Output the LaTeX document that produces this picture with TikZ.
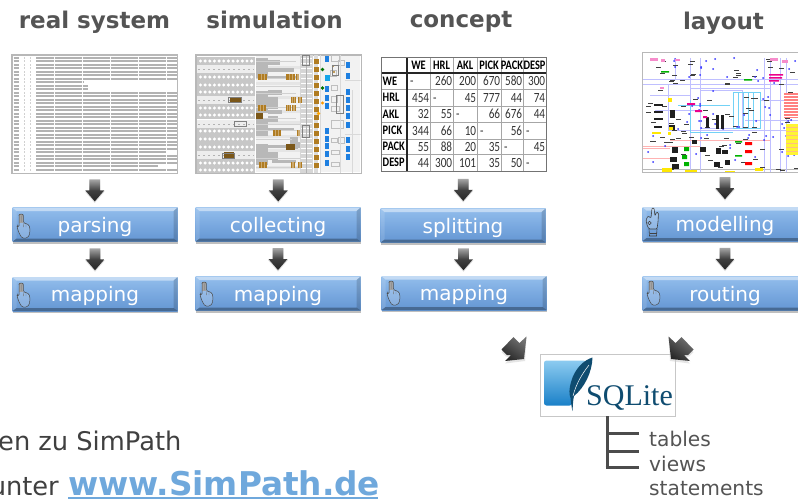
\documentclass[tikz,border=0pt]{standalone}
\usepackage{fontspec}
\setmainfont{DejaVu Sans}
\newfontfamily\tablefont[FakeStretch=.8]{Carlito}
\newfontfamily\logofont{Liberation Serif}
\usetikzlibrary{shadows,calc}
\definecolor{txtgray}{gray}{0.33}
\definecolor{linkblue}{HTML}{6FA8DC}
\definecolor{brownb}{HTML}{B07C22}
\definecolor{blueb}{HTML}{1E7FE0}
\definecolor{logoblue}{HTML}{0F4C70}
\definecolor{stepTop}{HTML}{93BEEC}
\definecolor{stepMid}{HTML}{7AA9E0}
\definecolor{stepBot}{HTML}{6496D2}
\definecolor{logoTop}{HTML}{8CCBF0}
\definecolor{logoBot}{HTML}{1A80C8}
\tikzset{
  x=1pt,y=-1pt,
  titletext/.style={font=\bfseries\fontsize{23}{25}\selectfont,text=txtgray,inner sep=0pt,anchor=base},
  thumb/.style={draw=black!28,line width=.9pt,fill=white,inner sep=0pt,minimum width=165pt,minimum height=118pt},
  stepbox/.style={inner sep=0pt,minimum width=165pt,minimum height=34pt,top color=stepTop,bottom color=stepBot,middle color=stepMid,
     font=\fontsize{20}{22}\selectfont,text=white,text height=16pt,text depth=1pt,
     drop shadow={shadow xshift=0pt,shadow yshift=-2pt,opacity=.25,fill=black},
     path picture={
       \fill[white,opacity=.45] (path picture bounding box.north west) -- (path picture bounding box.north east) -- ++(-4pt,-3.5pt) -- ($(path picture bounding box.north west)+(4pt,-3.5pt)$) -- cycle;
       \fill[black,opacity=.3] (path picture bounding box.south west) -- (path picture bounding box.south east) -- ++(-4pt,3pt) -- ($(path picture bounding box.south west)+(4pt,3pt)$) -- cycle;
       \fill[black,opacity=.15] (path picture bounding box.south east) -- (path picture bounding box.north east) -- ++(-4pt,-3.5pt) -- ($(path picture bounding box.south east)+(-4pt,3pt)$) -- cycle;
       \fill[white,opacity=.12] (path picture bounding box.south west) -- (path picture bounding box.north west) -- ++(4pt,-3.5pt) -- ($(path picture bounding box.south west)+(4pt,3pt)$) -- cycle;
     }},
  treeline/.style={draw=black!70,line width=3pt},
  leaftext/.style={font=\fontsize{20.2}{22}\selectfont,text=txtgray,inner sep=0pt,anchor=west},
  cellh/.style={font=\tablefont\bfseries\fontsize{13}{13}\selectfont,inner sep=0pt,text=black},
  cell/.style={font=\tablefont\fontsize{14}{14}\selectfont,inner sep=0pt,text=black!80},
}
% pointing hand, origin top-left of icon
\newcommand{\handicon}[2]{%
 \begin{scope}[shift={(#1,#2)}]
  \fill[black!45] (2.2,0) rectangle (6.2,9);
  \draw[black!70,line width=.5pt,fill=white,fill opacity=.2,rounded corners=1.2pt]
    (2,1.5) -- (2.5,0) -- (5.8,0) -- (6.3,1.5) -- (6.5,9) -- (9,9.5) -- (12,11) -- (13,15) -- (12.5,21) -- (10,24) -- (5,24) -- (2,19) -- (0,13) -- (.5,11.5) -- (2,13) -- cycle;
  \draw[black!55,line width=.4pt] (4.2,1.5) -- (4.2,8) (6.5,9) -- (6.6,13) (9,9.5) -- (9,13);
 \end{scope}}
\newcommand{\okhand}[2]{%
 \begin{scope}[shift={(#1,#2)}]
  \draw[black!75,line width=.6pt,fill=white,fill opacity=.2,rounded corners=1pt]
    (6,0) -- (8,0) -- (9,8) -- (10.5,4) -- (12.5,5) -- (12,14) -- (11,21) -- (3,21) -- (1,17) -- (0,12) -- (2,8) -- (5,10) -- cycle;
  \draw[black!75,line width=.6pt] (3,21) -- (3.5,28) -- (10.5,28) -- (11,21);
  \draw[black!75,line width=.5pt] (3.5,15) circle (1.8pt);
  \draw[black!75,line width=.4pt] (3.5,25) -- (10.5,25);
 \end{scope}}
% block arrow pointing down, centred on its origin
\newcommand{\vblock}[1]{%
 \begin{scope}[shift={(#1)}]
  \fill[black!25,opacity=.5] (-5.3,-10) -- (5.3,-10) -- (5.3,1) -- (10,1) -- (0,12.5) -- (-10,1) -- (-5.3,1) -- cycle;
  \shade[top color=black!35,bottom color=black!85,middle color=black!75] (-5.3,-11) -- (5.3,-11) -- (5.3,0) -- (9.5,0) -- (0,11) -- (-9.5,0) -- (-5.3,0) -- cycle;
 \end{scope}}
% chunky diagonal arrow, drawn pointing down-right, centred on its origin
\newcommand{\diagarrow}[2]{%
 \begin{scope}[shift={(#1)},xscale=#2]
  \fill[black!20,opacity=.5] (-12.5,3) -- (-.5,-9) -- (6,-6) -- (12.5,-12) -- (11,12) -- (-9,14.5) -- (-3,8.5) -- (-8,7.5) -- cycle;
  \shade[top color=black!55,bottom color=black!85,shading angle=-35] (-12.5,.5) -- (-.5,-12) -- (5.5,-6) -- (12.5,-12.5) -- (10,10) -- (-9,12) -- (-3,6) -- (-7,6) -- cycle;
 \end{scope}}
\begin{document}
\begin{tikzpicture}
\useasboundingbox (0,0) rectangle (798,499);
\clip (0,0) rectangle (798,499);
\fill[white] (0,0) rectangle (798,499);
% ---- titles
\node[titletext] (t1) at (94.5,28.5) {real system};
\node[titletext] (t2) at (274.5,28.5) {simulation};
\node[titletext] (t3) at (461,27) {concept};
\node[titletext] (t4) at (723.5,29) {layout};
% ---- thumbnails
\node[thumb] (real) at (94.5,114) {};
\node[thumb] (sim) at (278.5,114) {};
\node[draw=black!55,line width=.9pt,fill=white,inner sep=0pt,minimum width=165pt,minimum height=114pt] (tab) at (463.5,114) {};
\node[thumb,minimum height=117pt] (lay) at (725,110.5) {};
% real-system text dump
\begin{scope}
 \foreach \r in {0,...,32}{
  \pgfmathsetmacro\yy{57.8+\r*3.5}
  \draw[black!30,line width=2pt] (13.5,\yy) -- (18.5,\yy);
  \draw[black!18,line width=2pt] (24,\yy) -- (25,\yy) (30,\yy) -- (31,\yy);
  \pgfmathsetmacro\xe{(\r==8||\r==9)?88:((\r==7)?83:((\r==27)?166:((\r==31)?158:176.5)))}
  \draw[black!30,line width=2pt,dash pattern=on 18pt off .6pt on 9pt off .4pt] (36,\yy) -- (\xe,\yy);
 }
\end{scope}
% simulation thumbnail
\begin{scope}
 \clip (196.5,55.5) rectangle (360.5,172.5);
 \foreach \yy in {61,77,85,92,108,115,131,139,147,163,170}{
   \fill[black!22] (197,\yy-3.6) rectangle (255,\yy+3.6);
   \foreach \c in {0,...,11}{
     \fill[white] ({200.5+\c*4.65},\yy) circle (1.7pt);
   }
 }
 \foreach \yy in {69,100,124,155}{
   \fill[black!7] (197,\yy-3.6) rectangle (255,\yy+3.6);
   \draw[black!30,line width=.6pt,dash pattern=on 2pt off 3pt] (198,\yy) -- (254,\yy);
 }
 % gray machine blocks
 \fill[black!5] (256,56) rectangle (300,172);
 \foreach \y in {66,82,96,110,121,135,149,166}{\fill[black!10] (256,\y) rectangle +(44,3);}
 \foreach \x/\y/\w/\h in {256/58/12/21,256/91/12/22,256/118/12/18,256/144/12/21,
                          268/60/12/5,268/68/26/4,268/76/30/3,268/97/10/12,268/116/10/6,268/128/26/3,268/152/10/8,
                          290/137/8/12,292/142/8/6,268/90/14/5,268/110/14/4,268/145/20/3,272/160/24/3}
   \fill[black!28] (\x,\y) rectangle +(\w,\h);
 \foreach \x/\y/\w in {256/61/40,256/78/40,256/86/44,256/93/40,256/107/44,256/118/40,256/124/44,256/130/44,256/139/36,256/158/44,256/167/44}
   \draw[black!18,line width=.7pt] (\x,\y) -- +(\w,0);
 % vertical conveyor bands
 \fill[black!16] (300,55) rectangle (313,173);
 \foreach \y in {58,63,...,172}{\draw[white,line width=.5pt] (301,\y) -- (312,\y);}
 \draw[black!30,line width=.5pt] (306,55) -- (306,173);
 \fill[black!14] (314,55) rectangle (318,173);
 % brown pallets column
 \foreach \y in {58.5,66.5,...,170}{\fill[brownb] (314,\y) rectangle +(5,5);}
 % brown blocks
 \foreach \x/\y/\w/\h in {258/74/9/6,286/74/9/6,296/74/3/6,258/105/8/6,291/97/5/6,298/97/4/6,286/105/5/6,292/105/4/6,
                          273/130/8/6,297/130/3/6,259/162/8/6,291/162/4/6,298/162/4/6}
   {\fill[brownb] (\x,\y) rectangle +(\w,\h);
    \draw[white,opacity=.35,line width=.3pt] (\x+.3*\w,\y) -- +(0,\h) (\x+.65*\w,\y) -- +(0,\h);}
 \fill[black!30!brownb] (256,113) rectangle +(7,6);
 \fill[black!30!brownb] (286,144) rectangle +(9,6);
 \fill[black!30!brownb] (230,97) rectangle +(11,6);
 \fill[black!30!brownb] (224,152) rectangle +(10,6);
 % right side light grey
 \fill[black!5] (320,56) rectangle (360,172);
 \foreach \x/\y/\w/\h in {331/55/8/6,331/85/6/5,331/106/8/5,331/120/12/8,330/70/6/6,338/60/6/5,331/138/6/4,338/137/6/6,331/96/6/6,331/150/8/4,331/162/8/4}
   \draw[black!25,line width=.5pt] (\x,\y) rectangle +(\w,\h);
 \foreach \yy in {80,134}{\draw[black!15,line width=.6pt] (345,\yy) -- (361,\yy);}
 \draw[black!15,line width=.6pt] (340,55) -- (340,173) (352,90) -- (352,173) (320,55) -- (320,173);
 % blue blocks
 \foreach \y in {56,86,95,103,128,136,143,151,160}{\fill[blueb] (325,\y) rectangle +(4,6);}
 \fill[blueb!70!cyan] (325,75) rectangle +(4.5,6);
 \foreach \y in {62,72.5,89,97,105,113,122,137,146,154}{\fill[blueb] (346,\y) rectangle +(4,6);}
 % dots
 \fill[green!45!black] (322.5,69.5) circle (1.8pt) (322.5,88) circle (1.8pt);
 \fill[orange!80!yellow] (322.5,103) circle (1.6pt);
 \fill[orange!70!yellow] (318.5,113.5) circle (1.9pt);
 \fill[brownb] (334,72) circle (1.2pt) (333,66) circle (1.2pt);
 % selection frames
 \draw[black!50,line width=.8pt,fill=none]
   (302,55) rectangle (309,65) (332,65) rectangle (338.5,75) (336,95) rectangle (343,113)
   (302,125) rectangle (309,137) (228,97.5) rectangle (241,102.5) (234,121) rectangle (246,126) (222,153) rectangle (234,158);
\end{scope}
\draw[black!28,line width=.9pt] (real.north west) rectangle (real.south east) (sim.north west) rectangle (sim.south east);
% concept table
\def\cx{{381,407,430,453,477,501,523,546}}
\def\cy{{57,73,89,106,122,139,154,171}}
\foreach \x in {430,453,477,501,523} \draw[black!35,line width=.9pt] (\x,57) -- (\x,171);
\foreach \y in {89,106,122,139,154} \draw[black!35,line width=.9pt] (381,\y) -- (546,\y);
\draw[black!85,line width=1.1pt] (381,73) -- (546,73) (407,57) -- (407,171);
\draw[black!55,line width=1pt] (381,57) rectangle (546,171);
\foreach \n/\tx [count=\i from 1] in {h1/WE,h2/HRL,h3/AKL,h4/PICK,h5/PACK,h6/DESP}{
  \pgfmathsetmacro\xl{\cx[\i]}\pgfmathsetmacro\xr{\cx[\i+1]}
  \node[cellh,anchor=base] (c\n) at ({(\xl+\xr)/2},69.5) {\tx};
  \pgfmathsetmacro\yl{\cy[\i]}\pgfmathsetmacro\yr{\cy[\i+1]}
  \node[cellh,anchor=base west] (r\n) at (382.5,{(\yl+\yr)/2+4.2}) {\tx};
}
\foreach \r/\a/\b/\c/\d/\e/\f [count=\ii from 1] in {1/-/260/200/670/580/300,2/454/-/45/777/44/74,3/32/55/-/66/676/44,4/344/66/10/-/56/-,5/55/88/20/35/-/45,6/44/300/101/35/50/-}{
  \pgfmathsetmacro\yl{\cy[\ii]}\pgfmathsetmacro\yr{\cy[\ii+1]}
  \pgfmathsetmacro\ym{(\yl+\yr)/2+4.5}
  \foreach \v [count=\j from 1] in {\a,\b,\c,\d,\e,\f}{
    \pgfmathsetmacro\xl{\cx[\j]}\pgfmathsetmacro\xr{\cx[\j+1]}
    \if-\v
      \node[cell,anchor=base west] (v\ii\j) at (\xl+3,\ym) {-};
    \else
      \node[cell,anchor=base east] (v\ii\j) at (\xr-.7,\ym) {\v};
    \fi
  }
}
% layout thumbnail
\begin{scope}
 \clip (642.5,52.5) rectangle (798,172);
 \pgfmathsetseed{4711}
 \draw[blue!25,line width=.7pt] (643,79) -- (798,79) (643,84) -- (798,84) (690,88) -- (770,88);
 \foreach \x in {690,700,764,770,780,786}{\draw[blue!25,line width=.6pt] (\x,58) -- (\x,172);}
 \draw[blue!25,line width=.6pt] (668,84) -- (668,130) -- (790,130) (700,90) rectangle (742,128)
   (760,100) -- (798,100) (745,120) -- (798,120) (675,60) -- (675,79) (650,95) -- (690,95) (655,110) -- (700,110);
 \draw[cyan!55,line width=.6pt] (733,92) rectangle (760,128) (738,92) -- (738,128) (743,92) -- (743,128) (748,92) -- (748,128) (753,92) -- (753,128)
   (690,100) -- (690,132) -- (733,132) (678,105) -- (730,105);
 \draw[red!30,line width=.8pt] (643,148) -- (670,148) (643,158) -- (670,158) (670,140) -- (770,140) (643,146) -- (700,146);
 \foreach \n in {1,...,95}{
   \pgfmathsetmacro\px{645+random(0,150)}\pgfmathsetmacro\py{58+random(0,112)}
   \fill[black!75] (\px,\py) rectangle +(5,1.2);
 }
 \foreach \n in {1,...,70}{
   \pgfmathsetmacro\px{645+random(0,150)}\pgfmathsetmacro\py{58+random(0,112)}
   \fill[blue!80] (\px,\py) circle (1pt);
 }
 \foreach \x/\y/\w/\h in {654/104/9/2,654/111/9/2,654/118/9/2,654/126/8/2,670/110/5/8,669/125/6/5,
     672/147/6/6,670/157/7/5,672/164/7/5,700/147/6/5,716/148/5/6,722/150/6/4,714/162/6/5,725/160/5/5,
     692/140/5/4,706/118/3/10,716/115/3/14,721/115/3/14}
   \fill[black!88] (\x,\y) rectangle +(\w,\h);
 \foreach \x/\y/\w/\h in {660/87/4/2,650/58/8/3,661/59/4/3,675/59/5/2,770/58/8/3,782/60/6/3}
   \fill[magenta!45] (\x,\y) rectangle +(\w,\h);
 \fill[magenta] (769,74) rectangle +(14,1.5) (769,77) rectangle +(13,1.5) (769,80) rectangle +(10,1.5)
   (687,103) rectangle +(8,2) (695,110) rectangle +(7,2) (703,116) rectangle +(4,2);
 \fill[red!50] (784,93) rectangle (798,118);
 \foreach \y in {95,98,...,116}{\draw[white,line width=.4pt] (784,\y) -- (798,\y);}
 \fill[yellow!80] (786,124) rectangle (798,155);
 \foreach \y in {127,131,...,153}{\draw[orange!50,line width=.3pt] (786,\y) -- (798,\y);}
 \foreach \x/\y/\w/\h in {668/98/4/4,669/127/4/3,652/132/9/2,668/132/3/3,662/168/10/4,685/170/12/3,725/171/10/2,755/168/8/3}
   \fill[yellow!90!orange] (\x,\y) rectangle +(\w,\h);
 \fill[red] (745,142) rectangle +(7,3) (745,150) rectangle +(7,3) (745,162) rectangle +(7,3);
 \fill[green!70!black] (684,147) rectangle +(5,4) (682,155) rectangle +(5,4) (684,162) rectangle +(5,4)
    (661,71) rectangle +(8,1.5) (735,141) rectangle +(7,1.5) (735,155) rectangle +(7,1.5) (744,79) rectangle +(8,1.5);
\end{scope}
\draw[black!28,line width=.9pt] (642.5,52.5) -- (798,52.5) (642.5,52.5) -- (642.5,172) -- (798,172);
% ---- step boxes
\node[stepbox] (parsing) at (95,224.5) {parsing};
\node[stepbox] (mapA) at (95,294) {mapping};
\node[stepbox] (coll) at (278,224.5) {collecting};
\node[stepbox] (mapB) at (278,293.5) {mapping};
\node[stepbox] (split) at (463,225.5) {splitting};
\node[stepbox] (mapC) at (464,293) {mapping};
\node[stepbox] (model) at (725,224) {modelling};
\node[stepbox] (rout) at (725,293.5) {routing};
\handicon{17}{214}\handicon{17}{283}\handicon{200}{282}
\handicon{387}{281}\handicon{647}{281}
\okhand{646}{208}
% ---- block arrows between nodes
\foreach \p/\q [count=\k] in {real/parsing,parsing/mapA,sim/coll,coll/mapB,tab/split,split/mapC,lay/model,model/rout}{
  \coordinate (arr\k) at ($(\p.south)!.5!(\q.north)$);
  \vblock{arr\k}
}
% ---- SQLite logo
\node[draw=black!22,line width=.7pt,fill=white,inner sep=0pt,minimum width=135pt,minimum height=62pt] (sql) at (608,385) {};
\shade[top color=logoTop,bottom color=logoBot,rounded corners=2.5pt] (544,360.5) -- (586,360.5) -- (576,376) -- (572,405.5) -- (544,405.5) -- cycle;
\fill[logoblue] (592.5,357.5) .. controls (584,360) and (575,368) .. (571,382) .. controls (569,389) and (569,394) .. (570.5,398)
   .. controls (571,402) and (571.5,407) .. (572.5,411) .. controls (573,404) and (573,400) .. (574,396)
   .. controls (584,388) and (592,373) .. (592.5,357.5) -- cycle;
\draw[white,line width=.5pt] (589,365) .. controls (582,374) and (576,384) .. (573,396);
\node[inner sep=0pt,anchor=base west,font=\logofont\fontsize{30}{32}\selectfont,text=logoblue] (sqlname) at (586,405) {SQLite};
% ---- arrows into SQLite
\coordinate (fromLeft) at (514,349);
\coordinate (fromRight) at (681,349);
\diagarrow{fromLeft}{1}
\diagarrow{fromRight}{-1}
% ---- tree
\coordinate (treeEnd) at (607,467);
\node[leaftext] (tables) at (649,439) {tables};
\node[leaftext] (views) at (649,464) {views};
\node[leaftext] (stmts) at (649,489) {statements};
\draw[treeline] (sql.south -| treeEnd) -- (treeEnd);
\coordinate (b1) at (639,433);\coordinate (b2) at (639,451);\coordinate (b3) at (639,467);
\draw[treeline] (b1 -| treeEnd) -- (b1);
\draw[treeline] (b2 -| treeEnd) -- (b2);
\draw[treeline] ([xshift=-1.5pt]treeEnd) -- (b3);
% ---- bottom-left text
\node[inner sep=0pt,anchor=base west,font=\fontsize{25.7}{27}\selectfont,text=black!75] (line1) at (-2,450) {en zu SimPath};
\node[inner sep=0pt,anchor=base east,font=\fontsize{25.7}{27}\selectfont,text=black!75] (line2) at (59,495) {unter};
\node[inner sep=0pt,anchor=base west,font=\bfseries\fontsize{32.7}{34}\selectfont,text=linkblue] (link) at (68,495) {www.SimPath.de};
\draw[linkblue,line width=2pt] (68,498) -- (378,498);
\end{tikzpicture}
\end{document}
